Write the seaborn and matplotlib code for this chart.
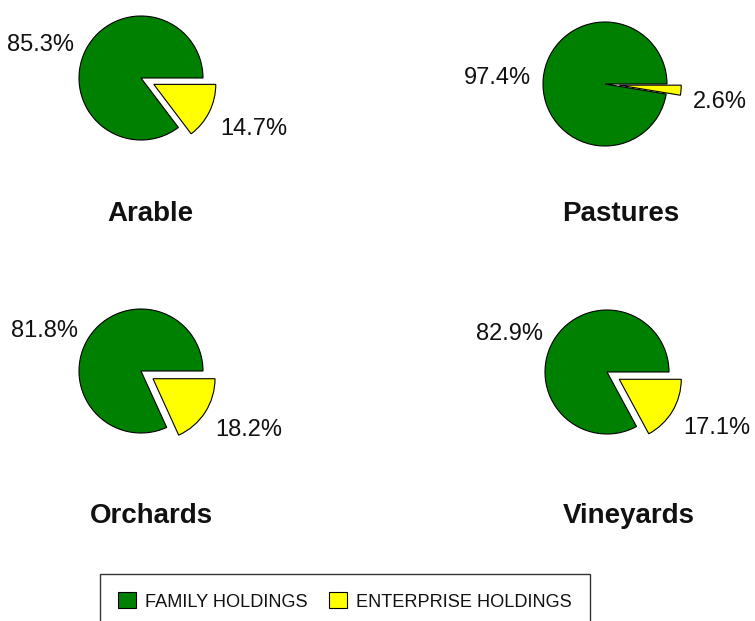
import matplotlib
matplotlib.use("Agg")
import matplotlib.pyplot as plt
from matplotlib.patches import Patch
import seaborn as sns

# data
crops = ["Arable", "Pastures", "Orchards", "Vineyards"]
family_share = [85.3, 97.4, 81.8, 82.9]
enterprise_share = [14.7, 2.6, 18.2, 17.1]
series_names = ["FAMILY HOLDINGS", "ENTERPRISE HOLDINGS"]

# layout (pixels in a 755x621 figure)
W, H = 755, 621
pie_centers = [(141, 78), (605, 84), (141, 371), (607, 372)]
title_pos = [(150, 221), (621, 221), (151, 523), (629, 523)]
R = 62
HALF = 110
colors = ["#008000", "#FFFF00"]

sns.set_theme(style="white")
plt.rcParams["font.family"] = ["Liberation Sans", "DejaVu Sans"]

fig = plt.figure(figsize=(W / 100, H / 100), dpi=100)
fig.patch.set_facecolor("white")

for i, crop in enumerate(crops):
    cx, cy = pie_centers[i]
    ax = fig.add_axes([(cx - HALF) / W, 1 - (cy + HALF) / H, 2 * HALF / W, 2 * HALF / H])
    vals = [family_share[i], enterprise_share[i]]
    labels = [f"{v:.1f}%" for v in vals]
    wedges, texts = ax.pie(vals, labels=labels, colors=colors, explode=[0, 0.23],
                           startangle=0, counterclock=True, labeldistance=1.2,
                           wedgeprops=dict(edgecolor="black", linewidth=0.8),
                           textprops=dict(fontsize=17, color="#111111"))
    # enterprise label sits a bit lower than the wedge midline
    texts[1].set_verticalalignment("top")
    lim = HALF / R
    ax.set_xlim(-lim, lim)
    ax.set_ylim(-lim, lim)
    ax.set_aspect("equal")
    ax.axis("off")
    tx, ty = title_pos[i]
    fig.text(tx / W, 1 - ty / H, crop, ha="center", va="baseline",
             fontsize=20, fontweight="bold", color="#111111")

handles = [Patch(facecolor=c, edgecolor="black", linewidth=0.8) for c in colors]
leg = fig.legend(handles, series_names, loc="upper left", ncol=2,
                 bbox_to_anchor=(100 / W, 1 - 574 / H), borderaxespad=0,
                 fontsize=13.1, frameon=True, fancybox=False,
                 handlelength=1.0, handleheight=1.0, handletextpad=0.5,
                 columnspacing=1.15, borderpad=1.0)
leg.get_frame().set_edgecolor("black")
leg.get_frame().set_linewidth(1.0)
for t in leg.get_texts():
    t.set_color("#111111")

fig.savefig("out.png", dpi=100)
